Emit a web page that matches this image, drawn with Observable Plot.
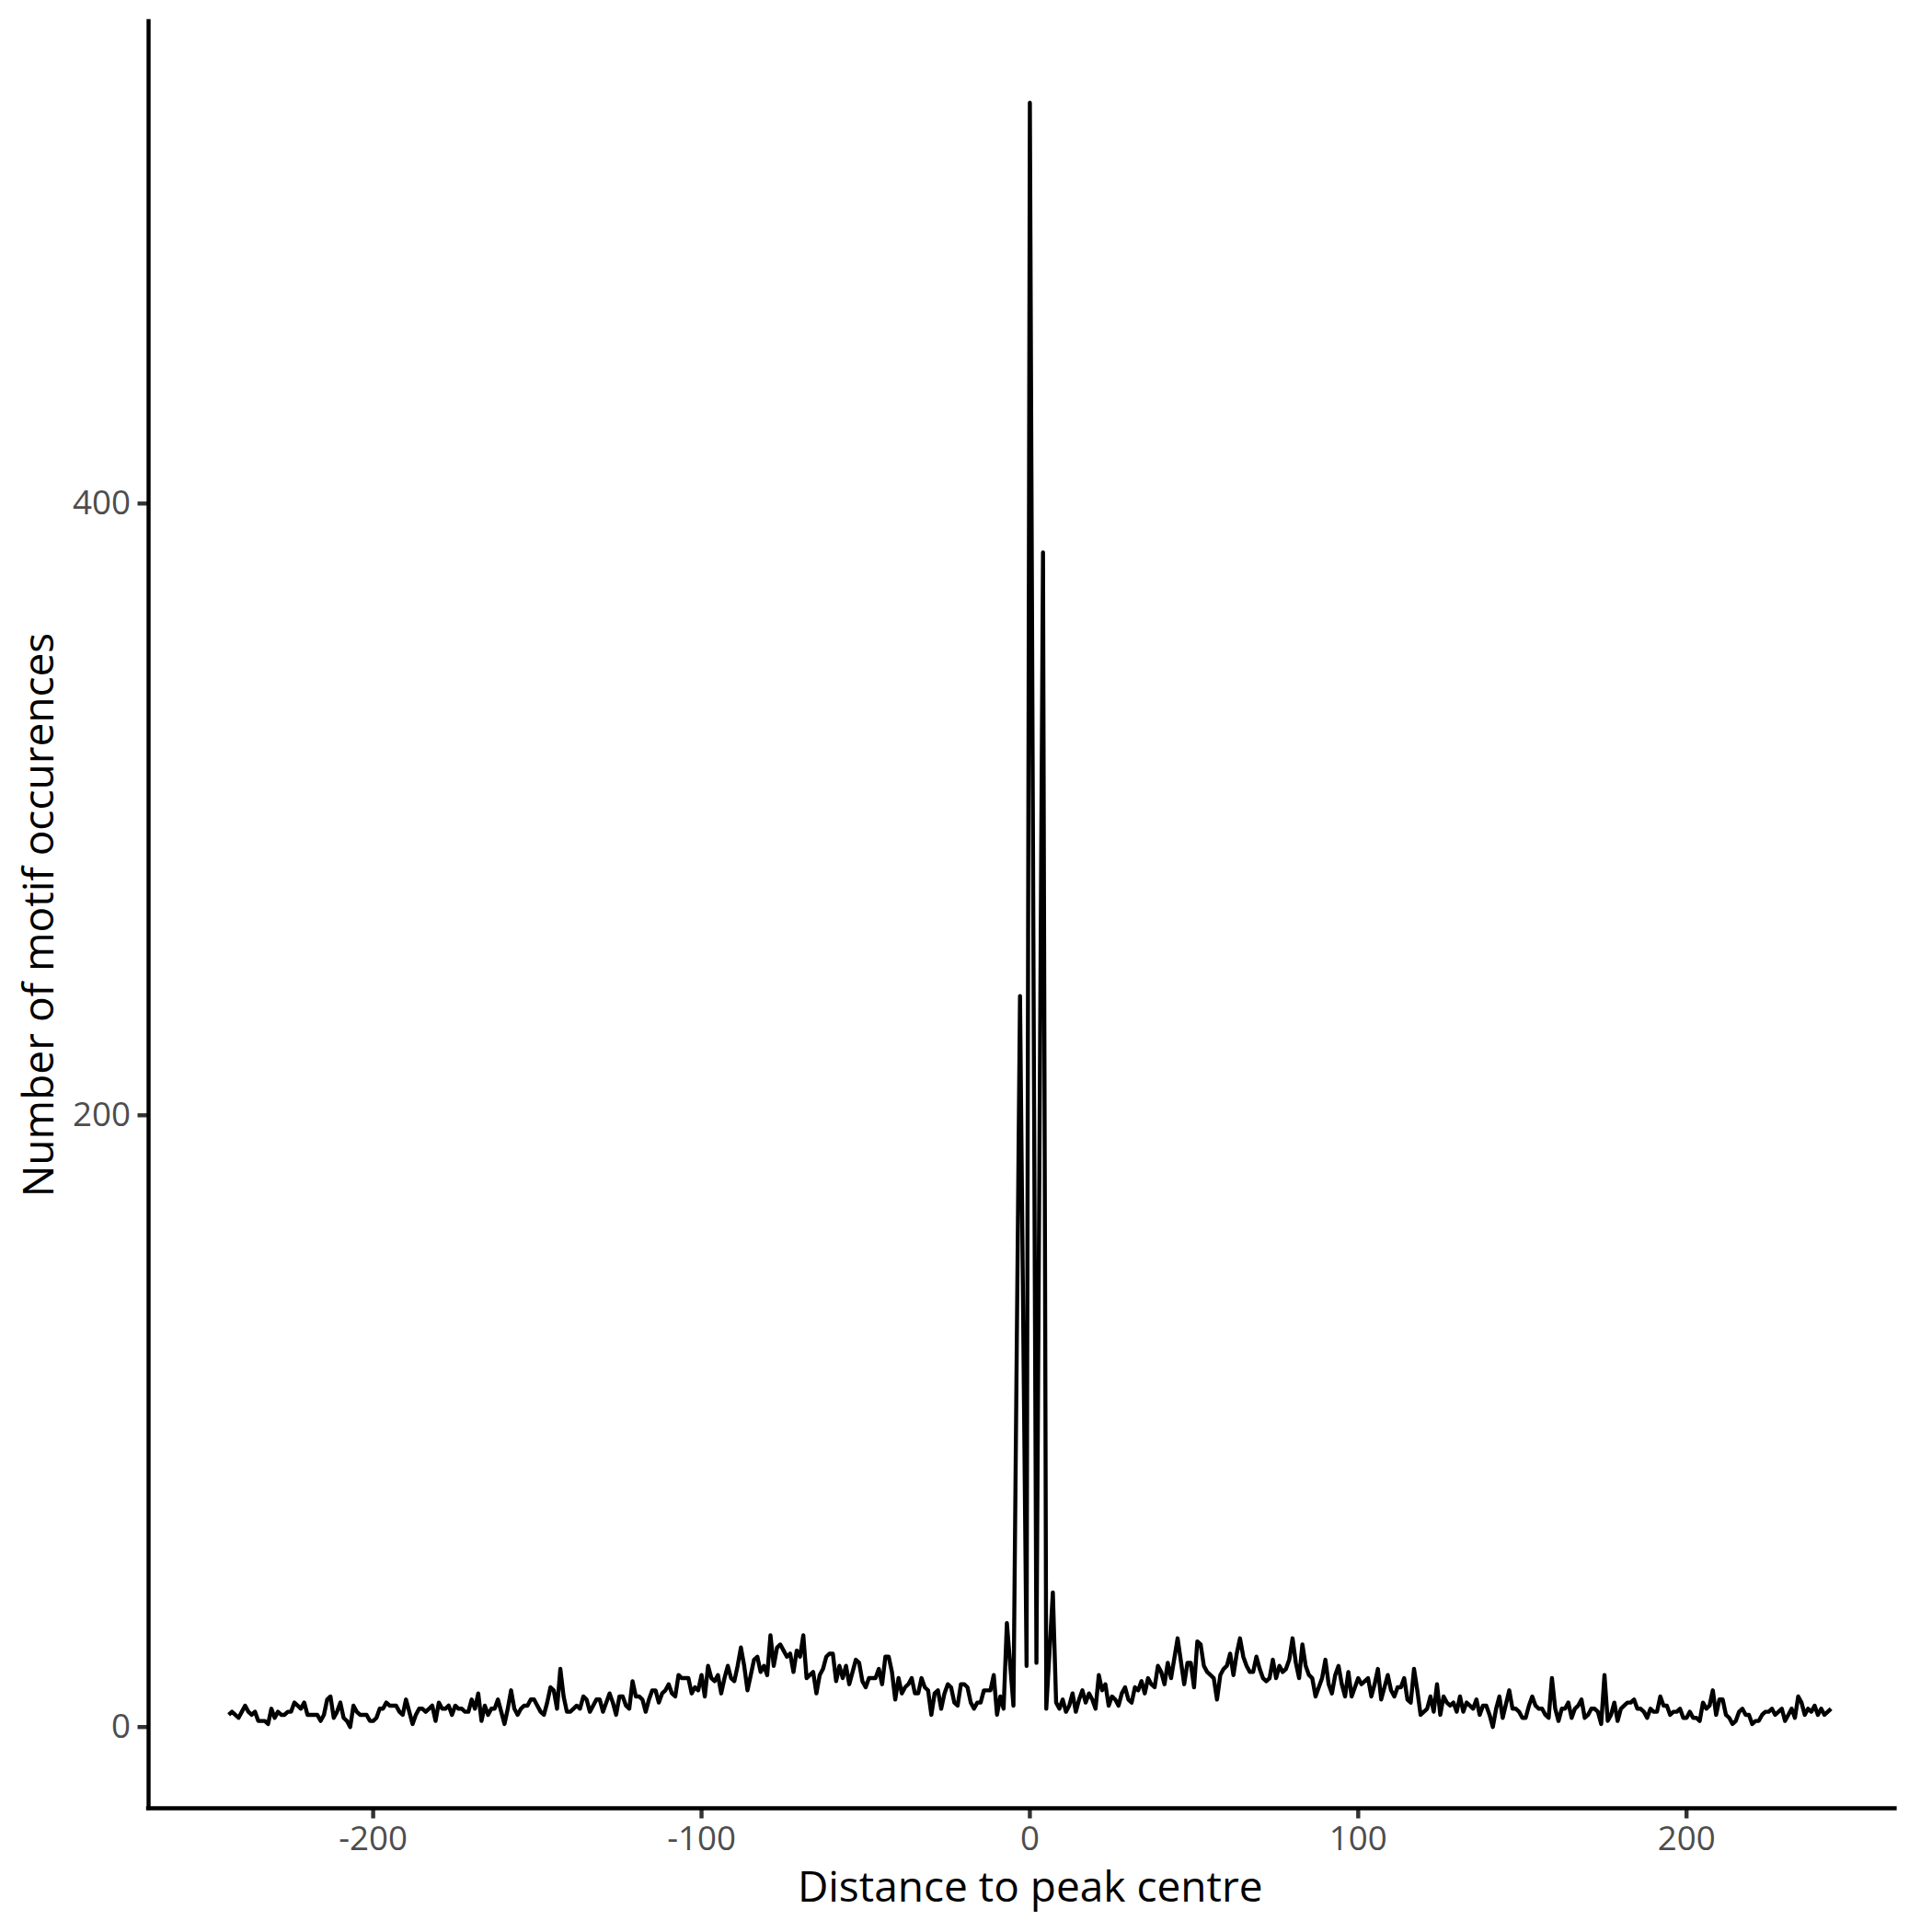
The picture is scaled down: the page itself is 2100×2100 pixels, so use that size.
<!DOCTYPE html>
<html>
<head>
<meta charset="utf-8">
<script src="https://cdn.jsdelivr.net/npm/d3@7"></script>
<script src="https://cdn.jsdelivr.net/npm/@observablehq/plot@0.6"></script>
<style>
  html, body { margin: 0; padding: 0; background: #ffffff; overflow: hidden; }
  #chart svg { display: block; }
</style>
</head>
<body>
<div id="chart"></div>
<script>
// ---- Data (motif occurrences per distance bin) ----
// Left flank: contiguous distances starting at leftStart
const leftStart = -244;
const leftCounts = [
  4,5,4,3,5,7,5,4,5,2,2,2,1,6,3,5,4,4,5,5,8,7,6,8,4,4,4,4,2,4,9,10,3,5,8,3,2,0,7,5,4,4,4,2,2,3,6,6,8,7,7,7,5,4,9,5,1,4,6,6,5,6,
  7,2,8,6,6,7,4,7,6,6,5,5,9,6,11,2,7,4,6,6,9,5,1,6,12,6,4,6,7,7,9,9,7,5,4,8,13,12,6,19,10,5,5,6,7,6,10,9,5,7,9,9,5,8,11,8,4,10,10,7,6,15,
  10,10,9,5,9,12,12,8,11,12,14,11,10,17,16,16,16,11,13,12,17,10,20,16,15,17,11,16,20,16,15,20,26,20,12,17,22,23,18,20,17,30,20,26,27,25,23,24,18,25,23,30,16,17,18,11,17,19,23,24,24,
  15,20,16,20,14,18,22,21,15,13,16,16,16,19,14,23,23,18,9,16,11,13,14,16,11,11,16,13,12,4,11,12,6,11,14,13,8,7,14,14,13,8,6,8,8,12,12,12,17,4,10,6
];

// Centre: individually read vertices
const centreDistance = [-7, -5, -3, -1, 0, 2, 4, 5, 7, 45];
const centreCounts   = [34,  7, 239, 20, 531, 21, 384, 6, 44, 29];

// Right flank pieces (contiguous distances)
const rightAStart = 8;
const rightACounts = [8,6,9,5,7,11,5,9,12,8,11,9,6,17,12,14,7,10,9,7,11,13,9,8,13,12,15,11,16,14,13,20,18,14,21,16];

const rightBStart = 47;
const rightBCounts = [
  14,21,21,13,28,27,20,18,17,16,9,17,19,20,24,17,24,29,23,20,
  18,18,23,19,16,15,16,22,16,20,18,19,22,29,21,16,27,20,17,16,
  10,13,16,22,14,11,17,20,14,10,18,10,13,16,14,15,16,10,14,19,
  9,13,17,12,10,13,13,16,9,8,19,12,4,5,6,10,5,14,4,10,
  8,7,8,5,10,5,8,7,6,9,4,7,7,4,0,6,10,3
];

const rightCStart = 146;
const rightCCounts = [
  12,6,6,5,3,3,7,10,7,6,6,4,3,16,6,2,6,6,8,3,
  6,7,9,3,4,6,6,5,1,17,2,4,8,2,6,7,8,8,9,6,
  6,5,3,6,5,5,10,7,7,4,5,5,6,3,3,5,3,3,2,8,
  6,7,12,4,9,9,4,3,1,2,5,6,4,4,1,2,2,4,5,5,
  6,4,5,6,2,4,6,3,10,8,4,6,5,7,4,6,4,5,6
];

const xTicks = [-200, -100, 0, 100, 200];
const yTicks = [0, 200, 400];
const xTitle = "Distance to peak centre";
const yTitle = "Number of motif occurences";

// ---- Build table ----
const rows = [];
const addRun = (start, counts) => counts.forEach((c, i) => rows.push({distance: start + i, count: c}));
addRun(leftStart, leftCounts);
centreDistance.forEach((d, i) => rows.push({distance: d, count: centreCounts[i]}));
addRun(rightAStart, rightACounts);
addRun(rightBStart, rightBCounts);
addRun(rightCStart, rightCCounts);
rows.sort((a, b) => a.distance - b.distance);

// ggplot-like expansion (panel in the reference ends a little short on the right)
const xExt = d3.extent(rows, d => d.distance);
const yExt = d3.extent(rows, d => d.count);
const xPad = (xExt[1] - xExt[0]) * 0.05;
const yPad = (yExt[1] - yExt[0]) * 0.05;
const xDomain = [xExt[0] - xPad, xExt[1] + xPad * 0.8];
const yDomain = [yExt[0] - yPad, yExt[1] + yPad];

const W = 2100, H = 2100;
const mL = 161, mT = 23, mB = 135;
// keep the same px-per-unit as the left part: right margin follows the domain
const pxPerUnit = 3.569;
const mR = W - mL - (xDomain[1] - xDomain[0]) * pxPerUnit;

const lw = 4.4;
const fmt = d => `${d}`;
const chart = Plot.plot({
  width: W,
  height: H,
  marginLeft: mL,
  marginRight: mR,
  marginTop: mT,
  marginBottom: mB,
  x: {domain: xDomain},
  y: {domain: yDomain},
  style: {fontFamily: "'Open Sans', 'Noto Sans', sans-serif", background: "#ffffff", color: "black"},
  marks: [
    Plot.axisX({ticks: xTicks, tickFormat: fmt, tickSize: 11.5, tickPadding: 8, fontSize: 36.7,
      stroke: "#333333", strokeWidth: lw, fill: "#4D4D4D", label: null}),
    Plot.axisY({ticks: yTicks, tickFormat: fmt, tickSize: 11.5, tickPadding: 8, fontSize: 36.7,
      stroke: "#333333", strokeWidth: lw, fill: "#4D4D4D", label: null}),
    Plot.ruleX([xDomain[0]], {stroke: "black", strokeWidth: lw, strokeLinecap: "square"}),
    Plot.ruleY([yDomain[0]], {stroke: "black", strokeWidth: lw, strokeLinecap: "square"}),
    Plot.line(rows, {x: "distance", y: "count", stroke: "black", strokeWidth: lw,
      strokeLinejoin: "round", strokeLinecap: "butt"}),
    Plot.text([xTitle], {text: d => d, frameAnchor: "bottom", dx: 9, dy: 87, fontSize: 46,
      fill: "black", lineAnchor: "middle", textAnchor: "middle"}),
    Plot.text([yTitle], {text: d => d, frameAnchor: "left", dx: -118, rotate: -90,
      fontSize: 46, fill: "black", lineAnchor: "middle", textAnchor: "middle"})
  ]
});
document.getElementById("chart").appendChild(chart);
</script>
</body>
</html>
